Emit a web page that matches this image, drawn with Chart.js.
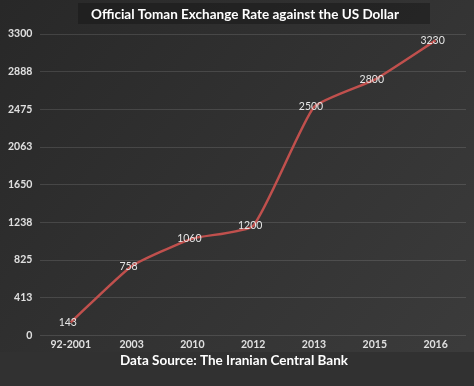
<!DOCTYPE html>
<html>
<head>
<meta charset="utf-8">
<script src="https://cdn.jsdelivr.net/npm/chart.js@4/dist/chart.umd.min.js"></script>
<style>
  html, body { margin: 0; padding: 0; background: #323232; }
  #wrap { width: 474px; height: 386px; }
</style>
</head>
<body>
<div id="wrap"><canvas id="rateChart" width="474" height="386"></canvas></div>
<script>
// data
var years = ["92-2001", "2003", "2010", "2012", "2013", "2015", "2016"];
var rates = [143, 758, 1060, 1200, 2500, 2800, 3230];
var yTickLabels = ["0", "413", "825", "1238", "1650", "2063", "2475", "2888", "3300"];
var titleText = "Official Toman Exchange Rate against the US Dollar";
var footerText = "Data Source: The Iranian Central Bank";

var fontFamily = "Lato, 'Open Sans', sans-serif";

// background panels, title box and the two captions
var backdrop = {
    id: "backdrop",
    beforeDraw: function (chart) {
        var ctx = chart.ctx;
        var w = chart.width, h = chart.height;
        ctx.save();
        var g = ctx.createLinearGradient(0, 0, w, h);
        g.addColorStop(0, "#282828");
        g.addColorStop(1, "#3c3c3c");
        ctx.fillStyle = g;
        ctx.fillRect(0, 0, w, 352);
        ctx.fillStyle = "#313131";
        ctx.fillRect(0, 352, w, h - 352);
        ctx.fillStyle = "rgba(20,20,20,0.45)";
        ctx.fillRect(78, 3, 352, 21);
        ctx.restore();
    },
    afterDraw: function (chart) {
        var ctx = chart.ctx;
        ctx.save();
        ctx.fillStyle = "#ffffff";
        ctx.textAlign = "center";
        ctx.textBaseline = "middle";
        ctx.font = "bold 13.5px " + fontFamily;
        ctx.fillText(titleText, 245, 15);
        ctx.fillText(footerText, 234, 361);
        ctx.restore();
    }
};

// value labels centred on each point
var pointLabels = {
    id: "pointLabels",
    afterDatasetsDraw: function (chart) {
        var ctx = chart.ctx;
        var meta = chart.getDatasetMeta(0);
        ctx.save();
        ctx.font = "10.5px " + fontFamily;
        ctx.fillStyle = "#e6e6e6";
        ctx.textAlign = "center";
        ctx.textBaseline = "middle";
        meta.data.forEach(function (pt, i) {
            ctx.fillText(rates[i], pt.x - 3, pt.y);
        });
        ctx.restore();
    }
};

var ctx = document.getElementById("rateChart").getContext("2d");
var myChart = new Chart(ctx, {
    type: "line",
    data: {
        labels: years,
        datasets: [{
            data: rates,
            borderColor: "#c0504d",
            borderWidth: 2.5,
            tension: 0.15,
            pointRadius: 0,
            fill: false
        }]
    },
    options: {
        responsive: false,
        animation: false,
        layout: {
            padding: { left: 0, right: 8, top: 34, bottom: 32 }
        },
        plugins: {
            legend: { display: false },
            tooltip: { enabled: false },
            title: { display: false }
        },
        scales: {
            x: {
                offset: true,
                ticks: {
                    color: "#e0e0e0",
                    font: { family: fontFamily, size: 10.5, weight: "bold" },
                    padding: 3,
                    maxRotation: 0
                },
                grid: { display: false, drawTicks: false },
                border: { display: false }
            },
            y: {
                min: 0,
                max: 3300,
                ticks: {
                    stepSize: 412.5,
                    color: "#e0e0e0",
                    font: { family: fontFamily, size: 10.5, weight: "bold" },
                    padding: 8,
                    callback: function (v, i) { return yTickLabels[i]; }
                },
                grid: { color: "rgba(255,255,255,0.12)", drawTicks: false },
                border: { display: false }
            }
        }
    },
    plugins: [backdrop, pointLabels]
});
</script>
</body>
</html>
